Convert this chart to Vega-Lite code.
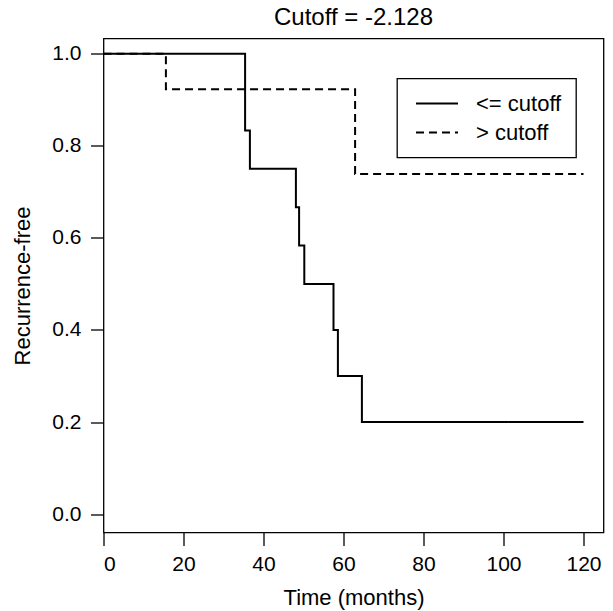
{
  "$schema": "https://vega.github.io/schema/vega-lite/v6.json",
  "width": 500,
  "height": 494,
  "autosize": {"type": "none"},
  "padding": {"left": 103.5, "top": 38.5, "right": 9.5, "bottom": 78.5},
  "background": "white",
  "title": {"text": "Cutoff = -2.128", "fontSize": 24, "font": "Liberation Sans", "fontWeight": "normal", "color": "black", "offset": 9},
  "data": {
    "values": [
      {"group": "<= cutoff", "time": 0, "surv": 1.0},
      {"group": "<= cutoff", "time": 35.4, "surv": 0.8333},
      {"group": "<= cutoff", "time": 36.6, "surv": 0.75},
      {"group": "<= cutoff", "time": 48.1, "surv": 0.6667},
      {"group": "<= cutoff", "time": 48.9, "surv": 0.5833},
      {"group": "<= cutoff", "time": 50.2, "surv": 0.5},
      {"group": "<= cutoff", "time": 57.5, "surv": 0.4},
      {"group": "<= cutoff", "time": 58.6, "surv": 0.3},
      {"group": "<= cutoff", "time": 64.6, "surv": 0.2},
      {"group": "<= cutoff", "time": 120, "surv": 0.2},
      {"group": "> cutoff", "time": 0, "surv": 1.0},
      {"group": "> cutoff", "time": 15.6, "surv": 0.923},
      {"group": "> cutoff", "time": 62.9, "surv": 0.7385},
      {"group": "> cutoff", "time": 120, "surv": 0.7385}
    ]
  },
  "mark": {"type": "line", "interpolate": "step-after", "strokeWidth": 2, "color": "black"},
  "encoding": {
    "x": {
      "field": "time", "type": "quantitative",
      "scale": {"domain": [0, 125], "nice": false, "zero": false},
      "axis": {"title": "Time (months)", "values": [0, 20, 40, 60, 80, 100, 120], "format": "d", "titlePadding": 13}
    },
    "y": {
      "field": "surv", "type": "quantitative",
      "scale": {"domain": [-0.04, 1.033], "nice": false, "zero": false},
      "axis": {"title": "Recurrence-free", "values": [0, 0.2, 0.4, 0.6, 0.8, 1.0], "format": ".1f", "titlePadding": 17, "labelPadding": 9.5}
    },
    "strokeDash": {
      "field": "group", "type": "nominal",
      "scale": {"domain": ["<= cutoff", "> cutoff"], "range": [[1, 0], [8, 5]]},
      "legend": {
        "orient": "none", "legendX": 293.5, "legendY": 40, "title": null,
        "strokeColor": "black", "padding": 14,
        "symbolType": "stroke", "symbolSize": 1764, "symbolStrokeWidth": 2, "symbolStrokeColor": "black",
        "labelFontSize": 22, "labelFont": "Liberation Sans", "labelColor": "black",
        "labelOffset": 17, "symbolOffset": 4, "rowPadding": 7, "clipHeight": 22,
        "encode": {
          "legend": {"update": {"strokeWidth": {"value": 1.3}}},
          "symbols": {"update": {"strokeDash": {"signal": "datum.label == '> cutoff' ? [10.5, 5.5] : [1, 0]"}}}
        }
      }
    }
  },
  "config": {
    "view": {"stroke": "black", "strokeWidth": 1.3},
    "axis": {
      "domain": false, "grid": false,
      "tickColor": "black", "tickSize": 13, "tickWidth": 1.3,
      "labelFont": "Liberation Sans", "labelFontSize": 21, "labelColor": "black", "labelPadding": 8,
      "titleFont": "Liberation Sans", "titleFontSize": 22, "titleFontWeight": "normal", "titleColor": "black"
    }
  }
}
